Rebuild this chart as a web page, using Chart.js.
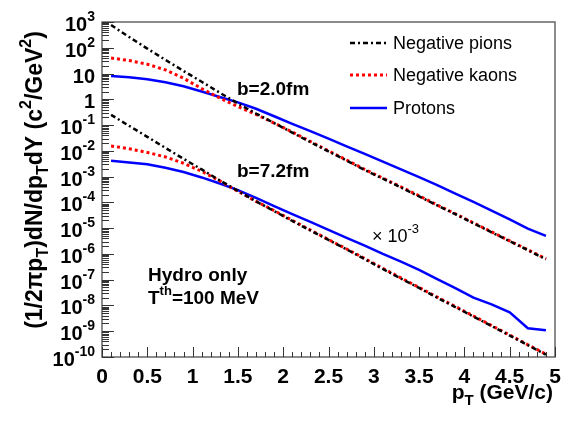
<!DOCTYPE html>
<html>
<head>
<meta charset="utf-8">
<script src="https://cdn.jsdelivr.net/npm/chart.js@4/dist/chart.umd.min.js"></script>
<style>
  body { margin: 0; background: #fff; }
  canvas { display: block; }
</style>
</head>
<body>
<canvas id="spectra" width="577" height="422"></canvas>
<script>
// --- DATA ---
const pT = [0.1, 0.3, 0.5, 0.7, 0.9, 1.1, 1.3, 1.5, 1.7, 1.9, 2.1, 2.3, 2.5,
            2.7, 2.9, 3.1, 3.3, 3.5, 3.7, 3.9, 4.1, 4.3, 4.5, 4.7, 4.9];

// b = 2.0 fm
const pionsB2 = [7.6e2, 2.6e2, 93, 34, 12.6, 4.8, 1.8, 0.69, 0.28, 0.12, 5.1e-2, 2.2e-2, 9.5e-3,
                 4.2e-3, 1.8e-3, 8.3e-4, 3.8e-4, 1.7e-4, 7.6e-5, 3.5e-5, 1.55e-5, 6.9e-6, 3.1e-6, 1.4e-6, 6.2e-7];
const kaonsB2 = [40, 32, 23, 13.8, 6.6, 2.6, 1.12, 0.52, 0.26, 0.12, 5.4e-2, 2.3e-2, 1.0e-2,
                 4.4e-3, 1.9e-3, 8.7e-4, 4.0e-4, 1.8e-4, 7.9e-5, 3.6e-5, 1.6e-5, 7.2e-6, 3.2e-6, 1.45e-6, 6.5e-7];
const protonsB2 = [8.1, 7.2, 6.0, 4.6, 3.2, 2.0, 1.23, 0.76, 0.43, 0.22, 0.112, 5.8e-2, 3.0e-2,
                   1.5e-2, 7.6e-3, 3.8e-3, 1.9e-3, 9.5e-4, 4.7e-4, 2.2e-4, 1.05e-4, 4.8e-5, 2.2e-5, 9.5e-6, 5.0e-6];

// b = 7.2 fm (x 10^-3)
const pionsB7 = [0.25, 9.3e-2, 3.5e-2, 1.3e-2, 4.9e-3, 1.9e-3, 7.1e-4, 2.8e-4, 1.1e-4, 4.6e-5, 1.9e-5, 8.1e-6, 3.5e-6,
                 1.5e-6, 6.3e-7, 2.6e-7, 1.1e-7, 4.8e-8, 2.0e-8, 8.7e-9, 3.7e-9, 1.6e-9, 6.8e-10, 2.9e-10, 1.23e-10];
const kaonsB7 = [1.55e-2, 1.2e-2, 8.7e-3, 5.8e-3, 3.3e-3, 1.6e-3, 6.8e-4, 2.7e-4, 1.1e-4, 4.8e-5, 2.0e-5, 8.5e-6, 3.6e-6,
                 1.55e-6, 6.6e-7, 2.75e-7, 1.17e-7, 5.0e-8, 2.1e-8, 9.1e-9, 3.9e-9, 1.66e-9, 7.1e-10, 3.0e-10, 1.29e-10];
const protonsB7 = [4.1e-3, 3.5e-3, 3.0e-3, 2.2e-3, 1.5e-3, 9.3e-4, 5.4e-4, 3.0e-4, 1.5e-4, 7.2e-5, 3.5e-5, 1.74e-5, 8.5e-6,
                   4.2e-6, 2.1e-6, 1.0e-6, 5.0e-7, 2.4e-7, 1.05e-7, 4.7e-8, 2.0e-8, 1.1e-8, 5.4e-9, 1.3e-9, 1.1e-9];

const xTickLabels = [0, 0.5, 1, 1.5, 2, 2.5, 3, 3.5, 4, 4.5, 5];
const yDecades = [3, 2, 1, 0, -1, -2, -3, -4, -5, -6, -7, -8, -9, -10];
const legendNames = ["Negative pions", "Negative kaons", "Protons"];

// --- STYLE ---
const FONT = '"Liberation Sans", Arial, Helvetica, sans-serif';
const styles = [
    { color: '#000000', dash: [5, 3, 2, 3], width: 2.5 },
    { color: '#ff0000', dash: [3, 3], width: 3 },
    { color: '#0000ff', dash: [], width: 2.5 }
];

function series(values, s) {
    return {
        data: pT.map((x, i) => ({ x: x, y: values[i] })),
        borderColor: s.color, borderDash: s.dash, borderWidth: s.width,
        pointRadius: 0, tension: 0, fill: false, borderCapStyle: 'butt'
    };
}

// text with sub/superscripts: parts = [[text, mode]], mode 1 = sup, -1 = sub
function drawRich(ctx, parts, x, y, size, weight, align) {
    const fontFor = m => `${weight} ${m ? Math.round(size * 0.7) : size}px ${FONT}`;
    let total = 0;
    parts.forEach(p => { ctx.font = fontFor(p[1]); total += ctx.measureText(p[0]).width; });
    let cx = align === 'right' ? x - total : align === 'center' ? x - total / 2 : x;
    ctx.textAlign = 'left';
    ctx.textBaseline = 'alphabetic';
    parts.forEach(p => {
        ctx.font = fontFor(p[1]);
        const dy = p[1] === 1 ? -size * 0.5 : p[1] === -1 ? size * 0.28 : 0;
        ctx.fillText(p[0], cx, y + dy);
        cx += ctx.measureText(p[0]).width;
    });
}

function seg(ctx, x1, y1, x2, y2) {
    ctx.beginPath(); ctx.moveTo(x1, y1); ctx.lineTo(x2, y2); ctx.stroke();
}

// --- FRAME, TICKS, LABELS, LEGEND ---
const rootStyle = {
    id: 'rootStyle',
    afterDraw(chart) {
        const { ctx, chartArea: a, scales: { x, y } } = chart;
        ctx.save();
        ctx.fillStyle = '#000';

        // frame
        ctx.strokeStyle = '#666';
        ctx.lineWidth = 1.5;
        ctx.strokeRect(a.left, a.top, a.right - a.left, a.bottom - a.top);

        // x ticks (inside)
        ctx.strokeStyle = '#333';
        ctx.lineWidth = 1;
        for (let i = 0; i <= 50; i++) {
            const px = Math.round(x.getPixelForValue(i / 10)) + 0.5;
            seg(ctx, px, a.bottom, px, a.bottom - (i % 5 === 0 ? 10 : 5));
        }
        // y ticks (inside)
        for (let e = -10; e <= 3; e++) {
            for (let m = 1; m <= 9; m++) {
                const v = m * Math.pow(10, e);
                if (v > 1e3) break;
                const py = Math.round(y.getPixelForValue(v)) + 0.5;
                seg(ctx, a.left, py, a.left + (m === 1 ? 12 : 7), py);
            }
        }

        // x tick labels
        ctx.font = `bold 21px ${FONT}`;
        ctx.textAlign = 'center';
        ctx.textBaseline = 'alphabetic';
        xTickLabels.forEach(v => ctx.fillText(String(v), x.getPixelForValue(v), a.bottom + 26));

        // y tick labels
        yDecades.forEach(e => {
            const py = y.getPixelForValue(Math.pow(10, e)) + 9;
            let parts;
            if (e === 0) parts = [['1', 0]];
            else if (e === 1) parts = [['10', 0]];
            else parts = [['10', 0], [String(e), 1]];
            drawRich(ctx, parts, 95, py, 20, 'bold', 'right');
        });

        // axis titles
        drawRich(ctx, [['p', 0], ['T', -1], [' (GeV/c)', 0]], 553, 399, 21, 'bold', 'right');
        ctx.save();
        ctx.translate(42, 180);
        ctx.rotate(-Math.PI / 2);
        drawRich(ctx, [['(1/2\u03c0p', 0], ['T', -1], [')dN/dp', 0], ['T', -1], ['dY (c', 0], ['2', 1],
                       ['/GeV', 0], ['2', 1], [')', 0]], 0, 0, 23, 'bold', 'center');
        ctx.restore();

        // annotations
        drawRich(ctx, [['b=2.0fm', 0]], 237, 95, 19, 'bold', 'left');
        drawRich(ctx, [['b=7.2fm', 0]], 237, 177, 19, 'bold', 'left');
        drawRich(ctx, [['\u00d7 10', 0], ['-3', 1]], 372, 242, 18, 'normal', 'left');
        drawRich(ctx, [['Hydro only', 0]], 148, 281, 19, 'bold', 'left');
        drawRich(ctx, [['T', 0], ['th', 1], ['=100 MeV', 0]], 148, 304, 19, 'bold', 'left');

        // legend
        const rowY = [43, 75, 108];
        legendNames.forEach((name, i) => {
            const s = styles[i];
            ctx.strokeStyle = s.color;
            ctx.lineWidth = s.width;
            ctx.setLineDash(s.dash);
            seg(ctx, 350, rowY[i], 387, rowY[i]);
            ctx.setLineDash([]);
            ctx.fillStyle = '#000';
            ctx.font = `18px ${FONT}`;
            ctx.textAlign = 'left';
            ctx.textBaseline = 'middle';
            ctx.fillText(name, 393, rowY[i] + 1);
        });
        ctx.restore();
    }
};

new Chart(document.getElementById('spectra'), {
    type: 'line',
    data: {
        datasets: [
            series(pionsB2, styles[0]), series(kaonsB2, styles[1]), series(protonsB2, styles[2]),
            series(pionsB7, styles[0]), series(kaonsB7, styles[1]), series(protonsB7, styles[2])
        ]
    },
    options: {
        responsive: false,
        devicePixelRatio: 1,
        animation: false,
        layout: { padding: { left: 102, right: 22, top: 22, bottom: 65 } },
        plugins: { legend: { display: false }, tooltip: { enabled: false } },
        scales: {
            x: { type: 'linear', min: 0, max: 5, display: false },
            y: { type: 'logarithmic', min: 1e-10, max: 1e3, display: false }
        }
    },
    plugins: [rootStyle]
});
</script>
</body>
</html>
